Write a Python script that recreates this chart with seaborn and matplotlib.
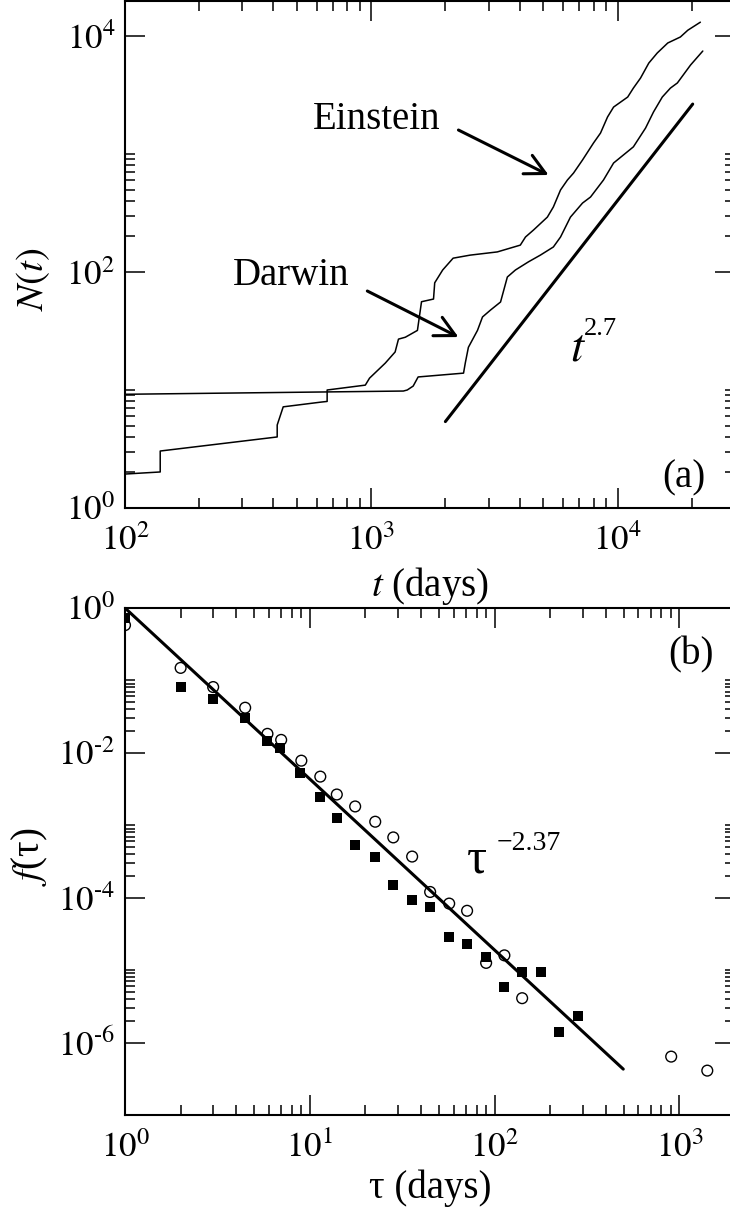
import numpy as np
import seaborn as sns
import matplotlib.pyplot as plt
from matplotlib.ticker import LogLocator, FixedLocator, FuncFormatter, NullFormatter

# panel (a): cumulative number of letters sent, N(t)
einstein_t = [100, 139, 139, 415, 415, 439, 626, 662, 662, 946, 984, 1140, 1250, 1290, 1375,
              1540, 1600, 1790, 1810, 1950, 2150, 2520, 3250, 4030, 4230, 4560, 5190, 5490,
              5870, 6260, 6630, 7210, 7990, 8530, 9110, 9640, 11000, 11600, 12400, 13400,
              14500, 16000, 18000, 19300, 21700]
einstein_n = [1.94, 2.02, 3.04, 4.0, 5.05, 7.2, 7.9, 8.0, 10.0, 11.0, 12.6, 16.9, 21, 27, 28,
              32, 56, 59, 81, 104, 131, 139, 148, 169, 198, 227, 292, 356,
              496, 602, 690, 890, 1240, 1505, 2060, 2500, 3040, 3620, 4400, 5900,
              7180, 8730, 9810, 11200, 13100]

darwin_t = [100, 1350, 1400, 1480, 1550, 2370, 2410, 2480, 2700, 2830, 3050, 3350, 3570, 3850,
            4350, 4860, 5490, 5870, 6440, 7210, 7770, 8770, 9640, 11600, 13000, 14000,
            15200, 16400, 17500, 19800, 22200]
darwin_n = [9.2, 9.8, 10.0, 10.8, 12.9, 13.9, 17, 23, 32, 41.6, 47.6, 55.7, 90.7, 104,
            122, 139, 163, 198, 292, 384, 432, 602, 839, 1150, 1660, 2270,
            3040, 3620, 4000, 5680, 7460]

fit_a_t = [2000, 20200]
fit_a_n = [5.4, 2650]

# panel (b): inter-event time distribution f(tau)
square_tau = [1, 2, 3, 4.47, 5.9, 6.9, 8.9, 11.4, 14, 17.6, 22.6, 28.3, 35.8, 44.8, 56.8,
              71, 90, 113, 141, 178, 224, 284]
square_f = [0.73, 0.081, 0.0556, 0.0304, 0.0146, 0.0116, 0.0053, 0.00247, 0.00127, 5.4e-4,
            3.7e-4, 1.5e-4, 9.4e-5, 7.5e-5, 2.9e-5, 2.3e-5, 1.5e-5, 5.9e-6, 9.3e-6, 9.3e-6,
            1.4e-6, 2.3e-6]

circle_tau = [1, 2, 3, 4.47, 5.9, 7, 9, 11.4, 14, 17.6, 22.6, 28.3, 35.8, 44.8, 56.8, 71,
              90, 113, 141, 903, 1416]
circle_f = [0.58, 0.149, 0.081, 0.042, 0.0183, 0.0151, 0.0078, 0.0047, 0.00266, 0.00182,
            0.00112, 6.8e-4, 3.7e-4, 1.2e-4, 8.3e-5, 6.6e-5, 1.26e-5, 1.6e-5, 4.1e-6,
            6.4e-7, 4.1e-7]

fit_b_tau = [1, 497]
fit_b_f = [1.0, 4.3e-7]

sns.set_style('ticks', {'axes.edgecolor': 'black', 'xtick.color': 'black',
                        'ytick.color': 'black', 'text.color': 'black',
                        'axes.labelcolor': 'black'})
plt.rcParams['font.family'] = ['Liberation Serif', 'DejaVu Serif']
plt.rcParams['mathtext.fontset'] = 'stix'

W, H = 730, 1217
fig = plt.figure(figsize=(W / 100, H / 100), dpi=100)
ax1 = fig.add_axes([125 / W, (H - 508) / H, 610 / W, 507.5 / H])
ax2 = fig.add_axes([125 / W, (H - 1115) / H, 610 / W, 507 / H])


def pow10(v, pos):
    k = int(round(np.log10(v)))
    if k < 0:
        return r'$10^{\text{-}%d}$' % (-k)
    return r'$10^{%d}$' % k


def style_axes(ax, ymajor_base, yminor):
    ax.set_xscale('log')
    ax.set_yscale('log')
    for s in ax.spines.values():
        s.set_linewidth(1.5)
        s.set_visible(True)
    ax.xaxis.set_major_locator(LogLocator(base=10))
    ax.xaxis.set_minor_locator(LogLocator(base=10, subs=range(2, 10), numticks=50))
    ax.yaxis.set_major_locator(LogLocator(base=ymajor_base))
    ax.yaxis.set_minor_locator(FixedLocator(yminor))
    ax.xaxis.set_major_formatter(FuncFormatter(pow10))
    ax.yaxis.set_major_formatter(FuncFormatter(pow10))
    ax.xaxis.set_minor_formatter(NullFormatter())
    ax.yaxis.set_minor_formatter(NullFormatter())
    ax.tick_params(which='both', direction='in', top=True, right=True, width=1.1,
                   labelsize=25)
    ax.tick_params(which='major', length=14.4)
    ax.tick_params(which='minor', length=7.2)
    ax.tick_params(axis='x', which='major', pad=12)
    ax.tick_params(axis='y', which='major', pad=7)


# ---- panel (a)
sns.lineplot(x=einstein_t, y=einstein_n, ax=ax1, color='black', lw=1.1,
             sort=False, estimator=None)
sns.lineplot(x=darwin_t, y=darwin_n, ax=ax1, color='black', lw=1.1,
             sort=False, estimator=None)
sns.lineplot(x=fit_a_t, y=fit_a_n, ax=ax1, color='black', lw=2.2,
             sort=False, estimator=None)

style_axes(ax1, 100, [m * 10.0 ** k for k in (0, 2, 4) for m in range(2, 11)])
ax1.set_xlim(100, 30000)
ax1.set_ylim(1, 2e4)
ax1.set_xlabel('$t$ (days)', fontsize=28)
ax1.set_ylabel('$N(t)$', fontsize=28)
ax1.xaxis.set_label_coords(0.5, -0.112)
ax1.yaxis.set_label_coords(-0.12, 0.45)

arrow = dict(arrowstyle='->,head_length=0.72,head_width=0.37', lw=2.2, color='black',
             shrinkA=0, shrinkB=0, mutation_scale=20)
ax1.text(581, 1630, 'Einstein', fontsize=28, ha='left', va='baseline')
ax1.annotate('', xy=(5250, 664), xytext=(2260, 1597), arrowprops=arrow)
ax1.text(275, 77.6, 'Darwin', fontsize=28, ha='left', va='baseline')
ax1.annotate('', xy=(2260, 28.1), xytext=(964, 69), arrowprops=arrow)
ax1.text(6440, 17.9, '$t$', fontsize=34, ha='left', va='baseline')
ax1.annotate('2.7', xy=(6440, 17.9), xytext=(9.5, 18), textcoords='offset points',
             fontsize=19, ha='left', va='baseline')
ax1.text(0.88, 0.06, '(a)', fontsize=28, ha='left', va='center', transform=ax1.transAxes)

# ---- panel (b)
sns.scatterplot(x=circle_tau, y=circle_f, ax=ax2, marker='o', s=60, facecolor='none',
                edgecolor='black', linewidth=1.0, zorder=3)
sns.scatterplot(x=square_tau, y=square_f, ax=ax2, marker='s', s=60, color='black',
                edgecolor='black', linewidth=0, zorder=4)
sns.lineplot(x=fit_b_tau, y=fit_b_f, ax=ax2, color='black', lw=2.2,
             sort=False, estimator=None, zorder=2)

style_axes(ax2, 100, [m * 10.0 ** k for k in (-8, -6, -4, -2) for m in range(2, 11)])
ax2.set_xlim(1, 2000)
ax2.set_ylim(1e-7, 1)
ax2.set_xlabel('τ (days)', fontsize=28)
ax2.set_ylabel('$f$(τ)', fontsize=28)
ax2.xaxis.set_label_coords(0.5, -0.108)
ax2.yaxis.set_label_coords(-0.123, 0.51)
ax2.text(71, 2.2e-4, 'τ', fontsize=36, ha='left', va='baseline')
ax2.annotate('\u22122.37', xy=(71, 2.2e-4), xytext=(21.5, 16.5), textcoords='offset points',
             fontsize=20, ha='left', va='baseline')
ax2.text(0.89, 0.907, '(b)', fontsize=28, ha='left', va='center', transform=ax2.transAxes)

fig.savefig('out.png', dpi=100)
